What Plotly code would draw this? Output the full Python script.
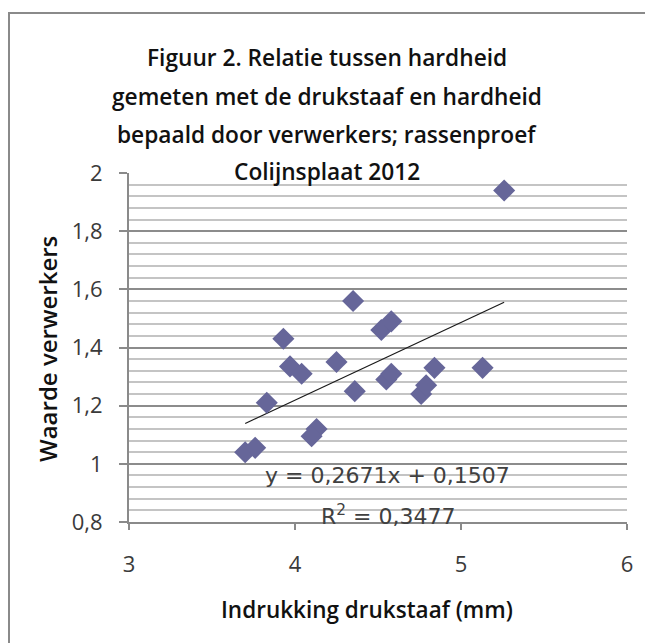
import plotly.graph_objects as go

# ---- data ----
x_indrukking = [5.26, 4.35, 3.93, 4.52, 4.58, 4.25, 3.97, 4.04, 4.36, 4.55,
                4.58, 4.84, 5.13, 4.76, 4.79, 3.83, 4.13, 4.10, 3.70, 3.76]
y_waarde = [1.94, 1.56, 1.43, 1.46, 1.49, 1.35, 1.335, 1.31, 1.25, 1.29,
            1.31, 1.33, 1.33, 1.24, 1.27, 1.21, 1.12, 1.095, 1.04, 1.055]

trend_slope = 0.2671
trend_intercept = 0.1507
r_squared = 0.3477

x_ticks = [3, 4, 5, 6]
x_ticktext = ["3", "4", "5", "6"]
y_ticks = [0.8, 1.0, 1.2, 1.4, 1.6, 1.8, 2.0]
y_ticktext = ["0,8", "1", "1,2", "1,4", "1,6", "1,8", "2"]

title_lines = [
    "Figuur 2. Relatie tussen hardheid",
    "gemeten met de drukstaaf en hardheid",
    "bepaald door verwerkers; rassenproef",
    "Colijnsplaat 2012",
]
x_title = "Indrukking drukstaaf (mm)"
y_title = "Waarde verwerkers"

FONT = "Open Sans"
EQ_FONT = "DejaVu Sans"

trend_x = [min(x_indrukking), max(x_indrukking)]
trend_y = [trend_slope * v + trend_intercept for v in trend_x]

fig = go.Figure()
fig.add_trace(go.Scatter(
    x=trend_x, y=trend_y, mode="lines",
    line=dict(color="#1a1a1a", width=1.2),
    showlegend=False, hoverinfo="skip",
))
fig.add_trace(go.Scatter(
    x=x_indrukking, y=y_waarde, mode="markers",
    marker=dict(symbol="diamond", size=17, color="#666699", line=dict(width=0)),
    showlegend=False,
))

# page has an 8px body margin; figure sized to fit inside the window
OFF = 8
W, H = 653 - OFF, 643 - OFF
L, R, T, B = 121, 26, 165, 121
pw = W - L - R
ph = H - T - B

def px_x(p):
    # p is a screen pixel in the reference
    return (p - OFF - L) / pw

def px_y(p):
    return (H - B - (p - OFF)) / ph

annotations = []
title_y = [57, 96, 134, 171]
for line, yy in zip(title_lines, title_y):
    annotations.append(dict(
        text=line, xref="paper", yref="paper", x=px_x(327), y=px_y(yy),
        xanchor="center", yanchor="middle", showarrow=False,
        font=dict(family=FONT, size=22.7, color="#111111", weight=600),
    ))
annotations.append(dict(
    text=x_title, xref="paper", yref="paper", x=px_x(367), y=px_y(609),
    xanchor="center", yanchor="middle", showarrow=False,
    font=dict(family=FONT, size=22.5, color="#111111", weight=600),
))
annotations.append(dict(
    text=y_title, xref="paper", yref="paper", x=px_x(47), y=px_y(349),
    xanchor="center", yanchor="middle", showarrow=False, textangle=-90,
    font=dict(family=FONT, size=24, color="#111111", weight=600),
))
annotations.append(dict(
    text="y = " + f"{trend_slope:.4f}".replace(".", ",") + "x + "
         + f"{trend_intercept:.4f}".replace(".", ","),
    xref="paper", yref="paper", x=px_x(387), y=px_y(475),
    xanchor="center", yanchor="middle", showarrow=False,
    font=dict(family=EQ_FONT, size=22, color="#404040"),
))
annotations.append(dict(
    text="R<sup>2</sup> = " + f"{r_squared:.4f}".replace(".", ","),
    xref="paper", yref="paper", x=px_x(388), y=px_y(515),
    xanchor="center", yanchor="middle", showarrow=False,
    font=dict(family=EQ_FONT, size=22, color="#404040"),
))

fig.update_layout(
    width=W, height=H,
    margin=dict(l=L, r=R, t=T, b=B, pad=0),
    paper_bgcolor="white", plot_bgcolor="white",
    separators=",.",
    annotations=annotations,
    shapes=[dict(
        type="rect", xref="paper", yref="paper",
        x0=px_x(9), x1=px_x(700), y0=px_y(700), y1=px_y(13),
        line=dict(color="#8a8a8a", width=2), fillcolor="rgba(0,0,0,0)",
        layer="below",
    )],
    xaxis=dict(
        range=[3, 6], tickvals=x_ticks, ticktext=x_ticktext,
        showgrid=False, zeroline=False,
        showline=True, linecolor="#8a8a8a", linewidth=2,
        ticks="outside", ticklen=6, tickcolor="#8a8a8a", tickwidth=2,
        ticklabelstandoff=16,
        tickfont=dict(family=FONT, size=22, color="#3a3a3a"),
    ),
    yaxis=dict(
        range=[0.8, 2.0], tickvals=y_ticks, ticktext=y_ticktext,
        showgrid=True, gridcolor="#8c8c8c", gridwidth=1.5,
        zeroline=False,
        showline=True, linecolor="#8a8a8a", linewidth=2,
        ticks="outside", ticklen=8, tickcolor="#8a8a8a", tickwidth=1.5,
        ticklabelstandoff=12,
        tickfont=dict(family=FONT, size=22, color="#3a3a3a"),
        minor=dict(dtick=0.04, tick0=0.8, showgrid=True,
                   gridcolor="#c4c4c4", gridwidth=1.5),
    ),
)

fig.write_html("out.html")
